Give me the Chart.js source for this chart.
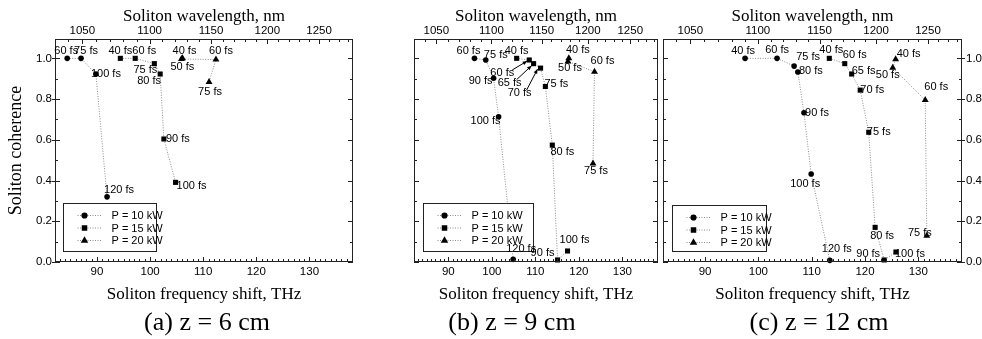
<!DOCTYPE html>
<html>
<head>
<meta charset="utf-8">
<script src="https://cdn.jsdelivr.net/npm/chart.js@4.4.0/dist/chart.umd.min.js"></script>
<style>
  html, body { margin: 0; padding: 0; background: #fff; }
  body { width: 982px; height: 339px; position: relative; overflow: hidden; }
  canvas { position: absolute; left: 0; top: 0; }
  .cap { position: absolute; top: 308px; width: 200px; margin-left: -100px; text-align: center;
         font-family: 'Liberation Serif', 'Times New Roman', serif; font-size: 26px; line-height: 28px; color: #000; }
</style>
</head>
<body>
<canvas id="panelA" width="982" height="339"></canvas>
<canvas id="panelB" width="982" height="339"></canvas>
<canvas id="panelC" width="982" height="339"></canvas>
<div class="cap" style="left:207px">(a) z = 6 cm</div>
<div class="cap" style="left:512px">(b) z = 9 cm</div>
<div class="cap" style="left:819px">(c) z = 12 cm</div>

<script>
// ========== Data (frequency shift in THz, coherence, pulse duration in fs) ==========
// (a) z = 6 cm
const a10Shift = [84.4, 87.0, 89.8, 91.9];
const a10Coh   = [1.0, 1.0, 0.923, 0.32];
const a10Fs    = [60, 75, 100, 120];
const a15Shift = [94.4, 97.2, 100.8, 101.9, 102.6, 104.8];
const a15Coh   = [1.0, 1.0, 0.974, 0.923, 0.604, 0.391];
const a15Fs    = [40, 60, 75, 80, 90, 100];
const a20Shift = [106.1, 105.9, 112.4, 111.1];
const a20Coh   = [1.0, 0.997, 0.994, 0.884];
const a20Fs    = [40, 50, 60, 75];

// (b) z = 9 cm
const b10Shift = [96.0, 98.6, 100.4, 101.55, 104.9];
const b10Coh   = [1.0, 0.992, 0.902, 0.713, 0.013];
const b10Fs    = [60, 75, 90, 100, 120];
const b15Shift = [105.7, 108.6, 109.6, 111.2, 112.3, 113.9, 115.1, 117.4];
const b15Coh   = [1.0, 0.992, 0.974, 0.952, 0.862, 0.574, 0.01, 0.054];
const b15Fs    = [40, 60, 65, 70, 75, 80, 90, 100];
const b20Shift = [117.7, 117.5, 123.6, 123.25];
const b20Coh   = [1.0, 0.985, 0.934, 0.484];
const b20Fs    = [40, 50, 60, 75];

// (c) z = 12 cm
const c10Shift = [97.5, 103.5, 106.7, 107.4, 108.55, 109.9, 113.4];
const c10Coh   = [1.0, 1.0, 0.962, 0.933, 0.733, 0.432, 0.008];
const c10Fs    = [40, 60, 75, 80, 90, 100, 120];
const c15Shift = [113.3, 116.2, 117.5, 119.1, 120.7, 121.9, 123.6, 125.8];
const c15Coh   = [1.0, 0.974, 0.923, 0.844, 0.637, 0.170, 0.01, 0.049];
const c15Fs    = [40, 60, 65, 70, 75, 80, 90, 100];
const c20Shift = [125.75, 125.2, 131.3, 131.6];
const c20Coh   = [0.995, 0.954, 0.795, 0.129];
const c20Fs    = [40, 50, 60, 75];

const POWER_LABELS = ['P = 10 kW', 'P = 15 kW', 'P = 20 kW'];
const SHIFT_TICKS = [90, 100, 110, 120, 130];
const WL_TICKS = [1050, 1100, 1150, 1200, 1250];
const COH_TICKS = [0, 0.2, 0.4, 0.6, 0.8, 1.0];

// ========== Label placement (pixel offsets of "xx fs" text from its point) ==========
const a10Off = [[-1, -7], [5, -7], [10, 0], [12, -7]];
const a15Off = [[0, -7], [9, -7], [-9, 6], [-11, 7], [14, 0], [16, 4]];
const a20Off = [[2, -7], [1, 8], [5, -9], [1, 10]];
const b10Off = [[-6, -7], [10, -5], [-13, 3], [-13, 4], [8, -10]];
const b15Off = [[0, -7], [-27, 13], [-24, 19], [-21, 25], [11, -2], [10, 7], [-15, -7], [7, -11]];
const b20Off = [[9, -8], [2, 7], [8, -11], [3, 8]];
const c10Off = [[-2, -7], [0, -8], [14, -9], [13, -1], [13, 0], [-6, 10], [7, -11]];
const c15Off = [[2, -8], [10, -9], [12, -3], [12, 0], [10, 0], [7, 9], [-16, -6], [14, 2]];
const c20Off = [[13, -5], [-5, 7], [11, -13], [-7, -3]];

// ========== Axis setup ==========
const X_MIN = 82.1, X_MAX = 138.2, Y_MAX = 1.095;
const SERIF = "'Liberation Serif', 'Times New Roman', serif";
const NARROW = "'Liberation Sans Narrow', 'Arial Narrow', 'Liberation Sans', Arial, sans-serif";
const MARKERS = ['circle', 'rect', 'triangle'];
const MARKER_R = [2.8, 3.6, 4];

// wavelength (nm) -> frequency shift (THz), calibrated to the top axis of the figure
function wlToShift(nm) {
  return 365.9 - 0.976 * 299792.458 / nm;
}

// frame, inward ticks, legend box, point labels and arrows
const panelDecor = {
  id: 'panelDecor',
  afterDatasetsDraw(chart, args, o) {
    const ctx = chart.ctx, a = chart.chartArea;
    const xs = chart.scales.x, xt = chart.scales.x2, ys = chart.scales.y;
    ctx.save();

    // legend
    const lg = o.legend;
    const bx = Math.round(a.left + lg.x) + 0.5, by = lg.y + 0.5;
    ctx.fillStyle = '#fff';
    ctx.fillRect(bx, by, lg.w, lg.h);
    ctx.strokeStyle = '#222';
    ctx.lineWidth = 1;
    ctx.strokeRect(bx, by, lg.w, lg.h);
    chart.data.datasets.forEach((ds, i) => {
      const ry = by + 12 + i * 12.5;
      ctx.strokeStyle = '#8c8c8c';
      ctx.setLineDash([1, 1.5]);
      ctx.beginPath();
      ctx.moveTo(bx + 14, ry);
      ctx.lineTo(bx + 38, ry);
      ctx.stroke();
      ctx.setLineDash([]);
      ctx.fillStyle = '#000';
      ctx.strokeStyle = '#000';
      Chart.helpers.drawPoint(ctx, { pointStyle: ds.pointStyle, radius: ds.pointRadius + 0.3, borderWidth: 0, rotation: 0 }, bx + 21, ry);
      ctx.font = '11px ' + NARROW;
      ctx.textAlign = 'left';
      ctx.textBaseline = 'middle';
      ctx.fillText(ds.label, bx + 48, ry + 0.5);
    });

    // frame
    ctx.strokeStyle = '#222';
    ctx.lineWidth = 1;
    ctx.strokeRect(a.left + 0.5, a.top + 0.5, a.right - a.left - 1, a.bottom - a.top - 1);

    // ticks
    ctx.beginPath();
    for (let v = Math.ceil(X_MIN); v <= X_MAX; v++) {
      const px = Math.round(xs.getPixelForValue(v)) + 0.5;
      const len = v % 10 === 0 ? 5 : 3;
      ctx.moveTo(px, a.bottom);
      ctx.lineTo(px, a.bottom - len);
    }
    for (let nm = 1000; nm <= 1300; nm += 10) {
      const s = wlToShift(nm);
      if (s < X_MIN || s > X_MAX) continue;
      const px = Math.round(xt.getPixelForValue(s)) + 0.5;
      const len = nm % 50 === 0 ? 5 : 3;
      ctx.moveTo(px, a.top);
      ctx.lineTo(px, a.top + len);
    }
    for (let k = 0; k <= 10; k++) {
      const py = Math.round(ys.getPixelForValue(k / 10)) + 0.5;
      const major = k % 2 === 0;
      ctx.moveTo(a.left - (major && o.side === 'left' ? 3 : 0), py);
      ctx.lineTo(a.left + (major ? 5 : 3), py);
      ctx.moveTo(a.right + (major && o.side === 'right' ? 3 : 0), py);
      ctx.lineTo(a.right - (major ? 5 : 3), py);
    }
    ctx.stroke();

    // point labels
    ctx.fillStyle = '#000';
    ctx.font = '11px ' + NARROW;
    ctx.textAlign = 'center';
    ctx.textBaseline = 'middle';
    chart.data.datasets.forEach((ds, i) => {
      const meta = chart.getDatasetMeta(i);
      meta.data.forEach((pt, j) => {
        const off = ds.offsets[j];
        ctx.fillText(ds.fs[j] + ' fs', pt.x + off[0], pt.y + off[1]);
      });
    });

    // arrows
    (o.arrows || []).forEach(ar => {
      const pt = chart.getDatasetMeta(ar.ds).data[ar.idx];
      const x1 = pt.x + ar.from[0], y1 = pt.y + ar.from[1];
      const x2 = pt.x + ar.to[0], y2 = pt.y + ar.to[1];
      const ang = Math.atan2(y2 - y1, x2 - x1);
      ctx.strokeStyle = '#000';
      ctx.beginPath();
      ctx.moveTo(x1, y1);
      ctx.lineTo(x2, y2);
      ctx.stroke();
      ctx.beginPath();
      ctx.moveTo(x2, y2);
      ctx.lineTo(x2 - 5 * Math.cos(ang - 0.4), y2 - 5 * Math.sin(ang - 0.4));
      ctx.lineTo(x2 - 5 * Math.cos(ang + 0.4), y2 - 5 * Math.sin(ang + 0.4));
      ctx.closePath();
      ctx.fill();
    });

    ctx.restore();
  }
};

function buildPanel(id, p) {
  const datasets = p.series.map((s, i) => ({
    label: POWER_LABELS[i],
    data: s.shift.map((x, j) => ({ x: x, y: s.coh[j] })),
    fs: s.fs,
    offsets: s.off,
    showLine: true,
    borderColor: '#8c8c8c',
    borderWidth: 1,
    borderDash: [1, 1.5],
    pointStyle: MARKERS[i],
    pointRadius: MARKER_R[i],
    pointBorderWidth: 0,
    pointBackgroundColor: '#000',
    pointBorderColor: '#000',
    clip: false
  }));

  const tickFont = { family: NARROW, size: 11.5 };
  const titleFont = { family: SERIF, size: 17 };

  return new Chart(document.getElementById(id), {
    type: 'scatter',
    data: { datasets: datasets },
    options: {
      responsive: false,
      animation: false,
      devicePixelRatio: 1,
      events: [],
      layout: { padding: p.padding },
      plugins: {
        legend: { display: false },
        tooltip: { enabled: false },
        panelDecor: { side: p.side, legend: p.legend, arrows: p.arrows }
      },
      scales: {
        x: {
          type: 'linear', position: 'bottom', min: X_MIN, max: X_MAX,
          afterBuildTicks: s => { s.ticks = SHIFT_TICKS.map(v => ({ value: v })); },
          grid: { display: false, drawTicks: false },
          border: { display: false },
          ticks: { padding: 3, color: '#000', font: tickFont, maxRotation: 0, autoSkip: false },
          title: { display: true, text: 'Soliton frequency shift, THz', color: '#000', font: titleFont, padding: { top: 0, bottom: 0 } },
          afterFit: s => { s.height = 43; }
        },
        x2: {
          type: 'linear', position: 'top', min: X_MIN, max: X_MAX,
          afterBuildTicks: s => { s.ticks = WL_TICKS.map(nm => ({ value: wlToShift(nm) })); },
          grid: { display: false, drawTicks: false },
          border: { display: false },
          ticks: { padding: 1, color: '#000', font: tickFont, maxRotation: 0, autoSkip: false,
                   callback: (v, i) => String(WL_TICKS[i]) },
          title: { display: true, text: 'Soliton wavelength, nm', color: '#000', font: titleFont, padding: { top: 6, bottom: 0 } },
          afterFit: s => { s.height = 39; }
        },
        y: {
          type: 'linear', position: p.side === 'right' ? 'right' : 'left', display: p.side !== 'none',
          min: 0, max: Y_MAX,
          afterBuildTicks: s => { s.ticks = COH_TICKS.map(v => ({ value: v })); },
          grid: { display: false, drawTicks: false },
          border: { display: false },
          ticks: { padding: p.side === 'right' ? 4 : 3, color: '#000', font: tickFont, callback: v => v.toFixed(1) },
          title: { display: p.side === 'left', text: 'Soliton coherence', color: '#000', font: { family: SERIF, size: 18 }, padding: { top: 5, bottom: 0 } },
          afterFit: s => { s.width = p.side === 'right' ? 20 : 55; }
        }
      }
    },
    plugins: [panelDecor]
  });
}

buildPanel('panelA', {
  side: 'left',
  padding: { left: 0, right: 629, top: 0, bottom: 34 },
  legend: { x: 8, y: 203, w: 93, h: 48 },
  series: [
    { shift: a10Shift, coh: a10Coh, fs: a10Fs, off: a10Off },
    { shift: a15Shift, coh: a15Coh, fs: a15Fs, off: a15Off },
    { shift: a20Shift, coh: a20Coh, fs: a20Fs, off: a20Off }
  ]
});

buildPanel('panelB', {
  side: 'none',
  padding: { left: 359, right: 324, top: 0, bottom: 34 },
  legend: { x: 9, y: 203, w: 110, h: 48 },
  arrows: [
    { ds: 1, idx: 1, from: [-17, 10], to: [-2, 1] },
    { ds: 1, idx: 2, from: [-17, 16], to: [-2, 2] },
    { ds: 1, idx: 3, from: [-14, 22], to: [-3, 1] }
  ],
  series: [
    { shift: b10Shift, coh: b10Coh, fs: b10Fs, off: b10Off },
    { shift: b15Shift, coh: b15Coh, fs: b15Fs, off: b15Off },
    { shift: b20Shift, coh: b20Coh, fs: b20Fs, off: b20Off }
  ]
});

buildPanel('panelC', {
  side: 'right',
  padding: { left: 663, right: 0, top: 0, bottom: 34 },
  legend: { x: 9, y: 205, w: 94, h: 46 },
  series: [
    { shift: c10Shift, coh: c10Coh, fs: c10Fs, off: c10Off },
    { shift: c15Shift, coh: c15Coh, fs: c15Fs, off: c15Off },
    { shift: c20Shift, coh: c20Coh, fs: c20Fs, off: c20Off }
  ]
});
</script>
</body>
</html>
